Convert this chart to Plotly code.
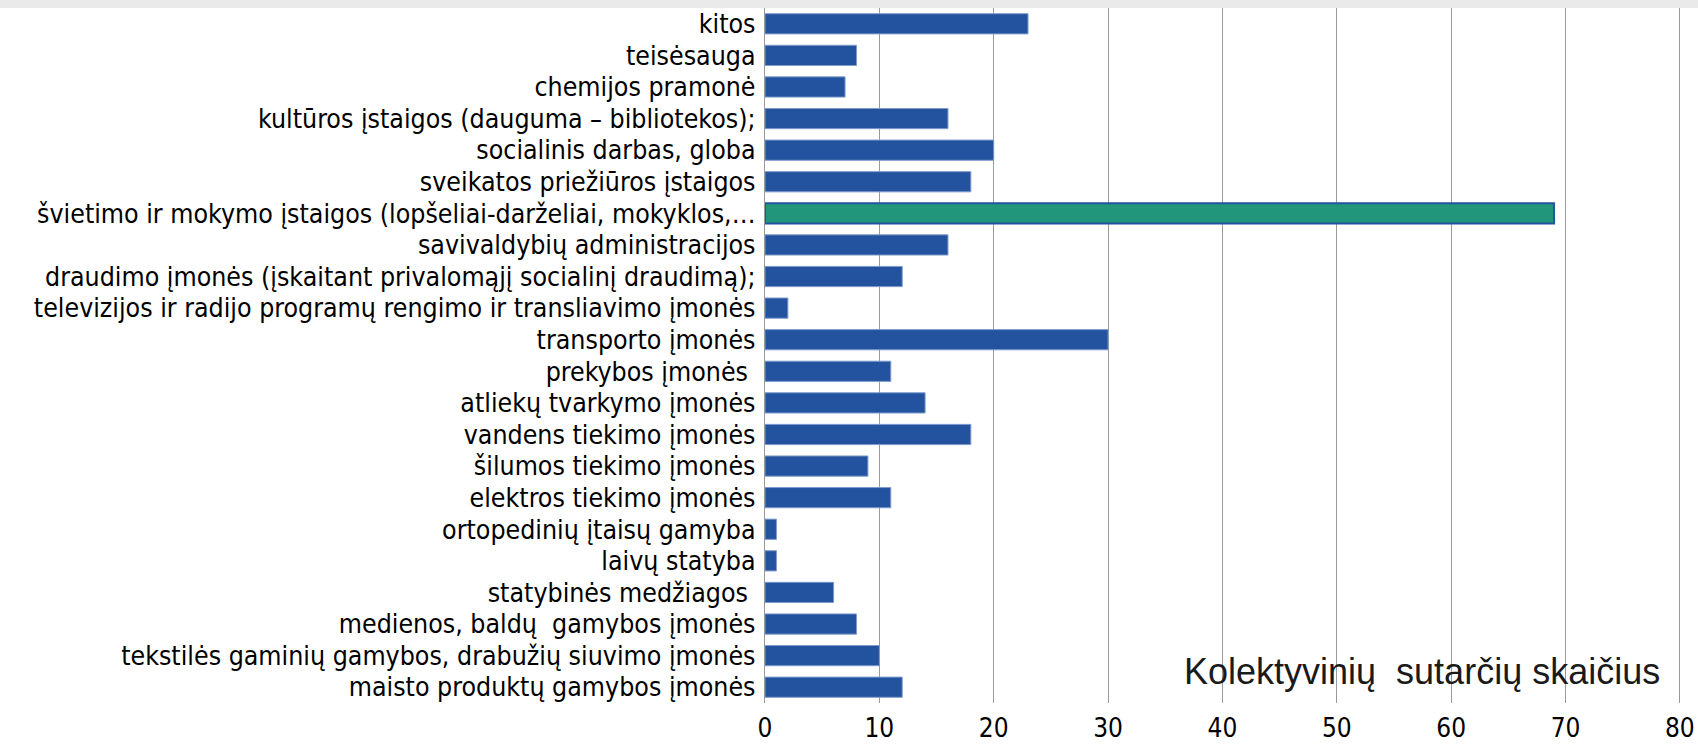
import plotly.graph_objects as go

categories = [
    "kitos",
    "teisėsauga",
    "chemijos pramonė",
    "kultūros įstaigos (dauguma – bibliotekos);",
    "socialinis darbas, globa",
    "sveikatos priežiūros įstaigos",
    "švietimo ir mokymo įstaigos (lopšeliai-darželiai, mokyklos,…",
    "savivaldybių administracijos",
    "draudimo įmonės (įskaitant privalomąjį socialinį draudimą);",
    "televizijos ir radijo programų rengimo ir transliavimo įmonės",
    "transporto įmonės",
    "prekybos įmonės ",
    "atliekų tvarkymo įmonės",
    "vandens tiekimo įmonės",
    "šilumos tiekimo įmonės",
    "elektros tiekimo įmonės",
    "ortopedinių įtaisų gamyba",
    "laivų statyba",
    "statybinės medžiagos ",
    "medienos, baldų  gamybos įmonės",
    "tekstilės gaminių gamybos, drabužių siuvimo įmonės",
    "maisto produktų gamybos įmonės",
]
values = [23, 8, 7, 16, 20, 18, 69, 16, 12, 2, 30, 11, 14, 18, 9, 11, 1, 1, 6, 8, 10, 12]
highlight = "švietimo ir mokymo įstaigos (lopšeliai-darželiai, mokyklos,…"
x_ticks = [0, 10, 20, 30, 40, 50, 60, 70, 80]
axis_note = "Kolektyvinių  sutarčių skaičius"

BLUE = "#23539F"
GREEN = "#21967A"
colors = [GREEN if c == highlight else BLUE for c in categories]
line_colors = ["#2453A0" if c == highlight else "#7F9CCB" for c in categories]
line_widths = [2 if c == highlight else 1 for c in categories]

label_font = "DejaVu Sans Condensed, DejaVu Sans, sans-serif"

fig = go.Figure(
    go.Bar(
        x=values,
        y=categories,
        orientation="h",
        marker=dict(color=colors, line=dict(color=line_colors, width=line_widths)),
        width=0.64,
        hoverinfo="x+y",
    )
)

fig.update_layout(
    width=1698,
    height=747,
    margin=dict(l=765, r=17, t=8, b=44, autoexpand=False),
    paper_bgcolor="white",
    plot_bgcolor="white",
    showlegend=False,
    bargap=0.35,
    font=dict(family=label_font, color="black", size=26),
)

fig.update_xaxes(
    range=[0, 80.1],
    tickmode="array",
    tickvals=x_ticks,
    ticktext=[str(v) for v in x_ticks],
    showgrid=True,
    gridcolor="#9A9A9A",
    gridwidth=1.3,
    zeroline=False,
    showline=False,
    ticks="",
    automargin=False,
    ticklabelstandoff=7,
    tickfont=dict(family=label_font, size=26, color="black"),
)
fig.update_yaxes(
    autorange="reversed",
    tickmode="array",
    tickvals=categories,
    ticktext=categories,
    showgrid=False,
    zeroline=False,
    showline=True,
    linecolor="#9A9A9A",
    linewidth=1.3,
    ticks="",
    automargin=False,
    ticklabelstandoff=3,
    tickfont=dict(family=label_font, size=26.5, color="black"),
)

# light gray strip along the top edge
fig.add_shape(
    type="rect", xref="paper", yref="paper",
    x0=-0.84, x1=1.02, y0=1.0, y1=1.02,
    fillcolor="#EAEAEA", line=dict(width=0), layer="below",
)

fig.add_annotation(
    text=axis_note,
    xref="paper", yref="paper",
    x=0.979, y=0.045,
    xanchor="right", yanchor="middle",
    showarrow=False,
    font=dict(family="Liberation Sans, Arial, sans-serif", size=36, color="#1a1a1a"),
)

fig.write_html(
    "out.html",
    config={"displayModeBar": False},
    post_script="document.body.style.margin='0px';",
)
